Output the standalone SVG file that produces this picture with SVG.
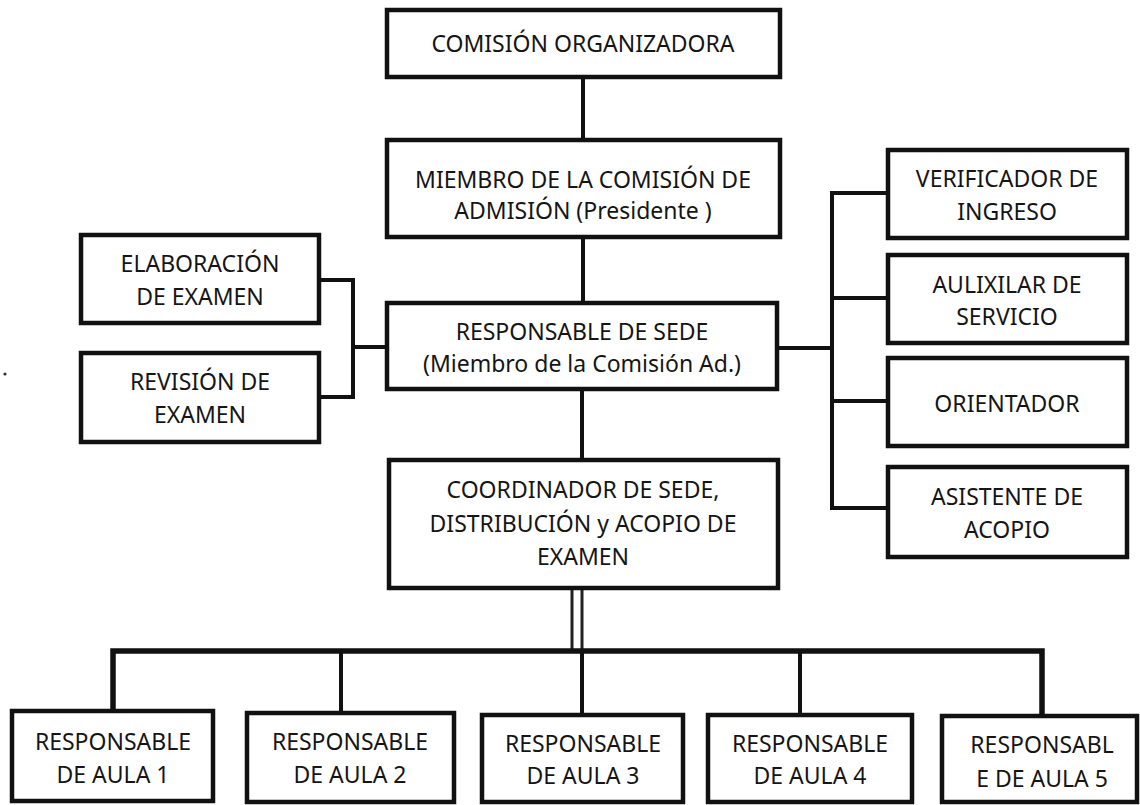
<svg xmlns="http://www.w3.org/2000/svg" width="1140" height="805" viewBox="0 0 1140 805">
<style>
.box{fill:#fff;stroke:#111;stroke-width:4.5}
.lbl{font-family:"Noto Sans","Open Sans","Liberation Sans",sans-serif;font-size:23px;fill:#151515;text-anchor:middle}
.ln{fill:none;stroke:#111;stroke-width:4;stroke-linecap:square}
.bus{fill:none;stroke:#111;stroke-width:5.5}
.thin{fill:none;stroke:#222;stroke-width:3}
</style>
<rect width="1140" height="805" fill="#fff"/>
<circle cx="5" cy="374" r="1.6" fill="#333"/>
<g id="connectors">
  <path class="ln" d="M583 77V140"/>
  <path class="ln" d="M583 237V303"/>
  <path class="ln" d="M582 389V460"/>
  <path class="ln" d="M319 280H353V397H319"/>
  <path class="ln" d="M353 347H387"/>
  <path class="ln" d="M777 348H832"/>
  <path class="ln" d="M888 193H832V508H888"/>
  <path class="ln" d="M832 298H888"/>
  <path class="ln" d="M832 401H888"/>
  <path class="thin" d="M572 588V651"/>
  <path class="thin" d="M582 588V651"/>
  <path class="bus" d="M113 713V651H1042V716"/>
  <path class="ln" d="M341 651V713"/>
  <path class="ln" d="M582 651V715"/>
  <path class="ln" d="M800 651V715"/>
</g>
<g id="comision">
  <rect class="box" x="387" y="10" width="393" height="67"/>
  <text class="lbl" x="583" y="52">COMISIÓN ORGANIZADORA</text>
</g>
<g id="miembro">
  <rect class="box" x="387" y="140" width="393" height="97"/>
  <text class="lbl" x="583" y="188">MIEMBRO DE LA COMISIÓN DE</text>
  <text class="lbl" x="583" y="219">ADMISIÓN (Presidente )</text>
</g>
<g id="responsable-sede">
  <rect class="box" x="387" y="303" width="390" height="86"/>
  <text class="lbl" x="582" y="340">RESPONSABLE DE SEDE</text>
  <text class="lbl" x="582" y="372">(Miembro de la Comisión Ad.)</text>
</g>
<g id="coordinador">
  <rect class="box" x="389" y="460" width="389" height="128"/>
  <text class="lbl" x="583" y="498">COORDINADOR DE SEDE,</text>
  <text class="lbl" x="583" y="532">DISTRIBUCIÓN y ACOPIO DE</text>
  <text class="lbl" x="583" y="565">EXAMEN</text>
</g>
<g id="elaboracion">
  <rect class="box" x="81" y="235" width="238" height="88"/>
  <text class="lbl" x="200" y="272">ELABORACIÓN</text>
  <text class="lbl" x="200" y="305">DE EXAMEN</text>
</g>
<g id="revision">
  <rect class="box" x="81" y="353" width="238" height="89"/>
  <text class="lbl" x="200" y="390">REVISIÓN DE</text>
  <text class="lbl" x="200" y="423">EXAMEN</text>
</g>
<g id="verificador">
  <rect class="box" x="888" y="150" width="239" height="88"/>
  <text class="lbl" x="1007" y="187">VERIFICADOR DE</text>
  <text class="lbl" x="1007" y="220">INGRESO</text>
</g>
<g id="auxiliar">
  <rect class="box" x="888" y="255" width="239" height="88"/>
  <text class="lbl" x="1007" y="293">AULIXILAR DE</text>
  <text class="lbl" x="1007" y="325">SERVICIO</text>
</g>
<g id="orientador">
  <rect class="box" x="888" y="358" width="239" height="88"/>
  <text class="lbl" x="1007" y="412">ORIENTADOR</text>
</g>
<g id="asistente">
  <rect class="box" x="888" y="467" width="239" height="90"/>
  <text class="lbl" x="1007" y="505">ASISTENTE DE</text>
  <text class="lbl" x="1007" y="538">ACOPIO</text>
</g>
<g id="aula1">
  <rect class="box" x="12" y="711" width="201" height="90"/>
  <text class="lbl" x="113" y="750">RESPONSABLE</text>
  <text class="lbl" x="113" y="783">DE AULA 1</text>
</g>
<g id="aula2">
  <rect class="box" x="247" y="713" width="207" height="89"/>
  <text class="lbl" x="350" y="750">RESPONSABLE</text>
  <text class="lbl" x="350" y="783">DE AULA 2</text>
</g>
<g id="aula3">
  <rect class="box" x="482" y="715" width="201" height="87"/>
  <text class="lbl" x="583" y="752">RESPONSABLE</text>
  <text class="lbl" x="583" y="784">DE AULA 3</text>
</g>
<g id="aula4">
  <rect class="box" x="708" y="715" width="204" height="87"/>
  <text class="lbl" x="810" y="752">RESPONSABLE</text>
  <text class="lbl" x="810" y="784">DE AULA 4</text>
</g>
<g id="aula5">
  <rect class="box" x="942" y="716" width="195" height="86"/>
  <text class="lbl" x="1042" y="753">RESPONSABL</text>
  <text class="lbl" x="1042" y="787">E DE AULA 5</text>
</g>
</svg>
